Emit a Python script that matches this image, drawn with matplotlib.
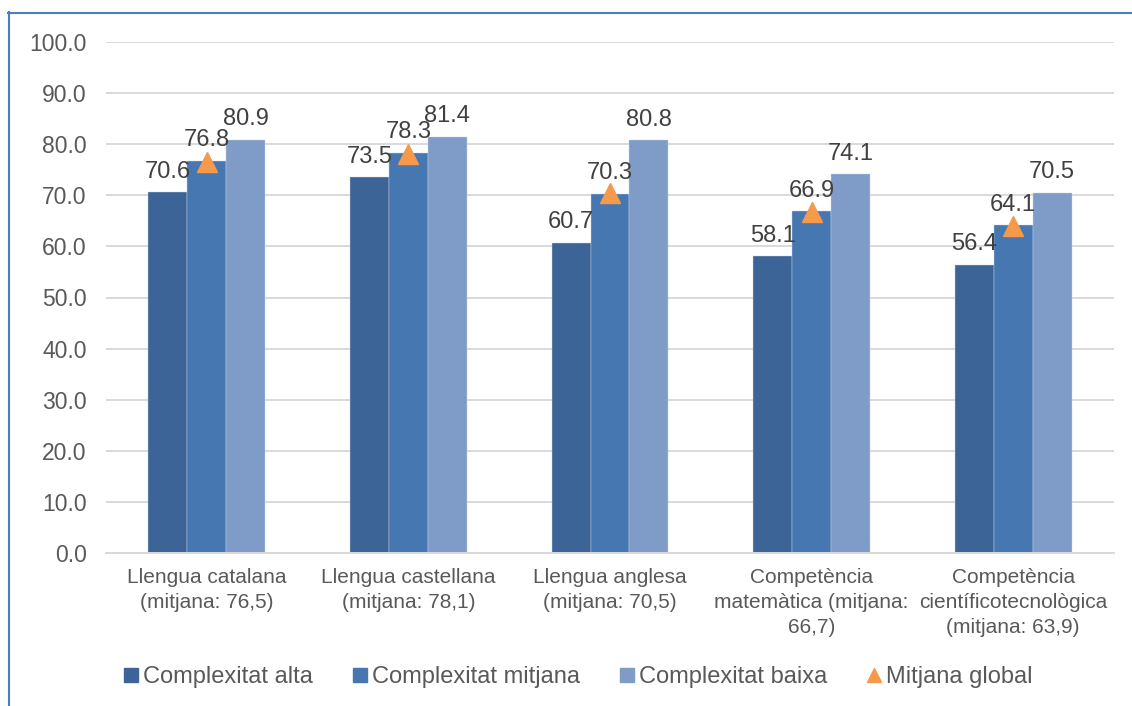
import numpy as np
import matplotlib.pyplot as plt
from matplotlib.lines import Line2D

# Data
categories = ["Llengua catalana\n(mitjana: 76,5)",
              "Llengua castellana\n(mitjana: 78,1)",
              "Llengua anglesa\n(mitjana: 70,5)",
              "Competència\nmatemàtica (mitjana:\n66,7)",
              "Competència\ncientíficotecnològica\n(mitjana: 63,9)"]
alta = [70.6, 73.5, 60.7, 58.1, 56.4]
mitjana = [76.8, 78.3, 70.3, 66.9, 64.1]
baixa = [80.9, 81.4, 80.8, 74.1, 70.5]
global_mean = [76.5, 78.1, 70.5, 66.7, 63.9]
series_names = ["Complexitat alta", "Complexitat mitjana", "Complexitat baixa", "Mitjana global"]

colors = ["#3C6496", "#4777B1", "#7F9CC8"]
orange = "#F59A4B"
grid_col = "#D9D9D9"

plt.rcParams['font.family'] = ['Liberation Sans', 'DejaVu Sans']

fig = plt.figure(figsize=(11.32, 7.06), dpi=100)
ax = fig.add_axes([106/1132, 1 - 553/706, (1114 - 106)/1132, (553 - 42)/706])

x = np.arange(len(categories))
w = 0.193
for i, vals in enumerate([alta, mitjana, baixa]):
    pos = x + (i - 1) * w
    ax.bar(pos, vals, width=w, color=colors[i], edgecolor="#C8D4E6", linewidth=0.3, zorder=2)
    for px, v in zip(pos, vals):
        ax.annotate(f"{v:.1f}", (px, v), xytext=(0, 10.5), textcoords="offset points",
                    ha="center", va="baseline", fontsize=17, color="#404040", zorder=4)

ax.plot(x, global_mean, linestyle="none", marker="^", markersize=14, color=orange, zorder=3)

ax.set_xlim(-0.5, len(categories) - 0.5)
ax.set_ylim(0, 100)
ax.set_yticks(np.arange(0, 101, 10))
ax.set_yticklabels([f"{t:.1f}" for t in np.arange(0, 101, 10)])
ax.set_xticks(x)
ax.set_xticklabels(categories, fontsize=15, color="#595959", linespacing=1.38)
ax.tick_params(axis="y", length=0, pad=14, labelsize=16.5, labelcolor="#595959")
ax.tick_params(axis="x", length=0, pad=11)
ax.grid(axis="y", color=grid_col, linewidth=1.4, zorder=0)
ax.set_axisbelow(True)
for s in ["top", "right", "left"]:
    ax.spines[s].set_visible(False)
ax.spines["bottom"].set_color(grid_col)
ax.spines["bottom"].set_linewidth(1.4)

# legend
handles = [Line2D([], [], linestyle="none", marker="s", markersize=9.5, color=c) for c in colors]
handles.append(Line2D([], [], linestyle="none", marker="^", markersize=10, color=orange))
fig.legend(handles, series_names, loc="center", bbox_to_anchor=(0.511, 1 - 677/706), ncol=4,
           frameon=False, fontsize=17, labelcolor="#595959", handlelength=0.6,
           handletextpad=0.2, columnspacing=1.7)

# chart border (left and top)
border = "#4A7EC4"
fig.add_artist(Line2D([8.5/1132, 8.5/1132], [0, 1 - 12/706], color=border, linewidth=1.5,
                      transform=fig.transFigure))
fig.add_artist(Line2D([8/1132, 1], [1 - 12.5/706, 1 - 12.5/706], color=border, linewidth=1.5,
                      transform=fig.transFigure))

fig.savefig("out.png", dpi=100)
